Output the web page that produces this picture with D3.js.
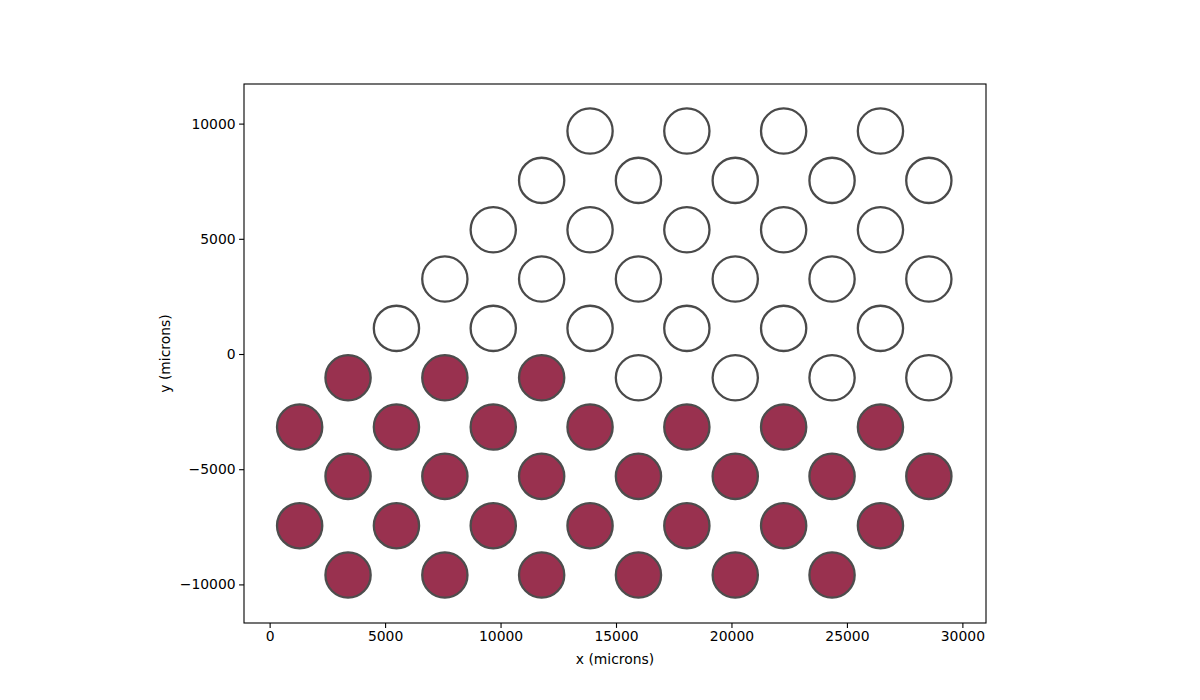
<!DOCTYPE html>
<html>
<head>
<meta charset="utf-8">
<script src="https://cdn.jsdelivr.net/npm/d3@7"></script>
<style>
    body { margin: 0; background: #fff; }
    #chart text { font-family: "DejaVu Sans", sans-serif; fill: #000; }
</style>
</head>
<body>
<div id="chart"></div>
<script>
const xTicks = [0, 5000, 10000, 15000, 20000, 25000, 30000];
const yTicks = [-10000, -5000, 0, 5000, 10000];

// filled holes (lower part)
const filledX = [
    3396, 7588, 11780,
    1300, 5492, 9684, 13876, 18068, 22260, 26452,
    3396, 7588, 11780, 15972, 20164, 24356, 28548,
    1300, 5492, 9684, 13876, 18068, 22260, 26452,
    3396, 7588, 11780, 15972, 20164, 24356
];
const filledY = [
    -1028, -1028, -1028,
    -3169, -3169, -3169, -3169, -3169, -3169, -3169,
    -5310, -5310, -5310, -5310, -5310, -5310, -5310,
    -7451, -7451, -7451, -7451, -7451, -7451, -7451,
    -9592, -9592, -9592, -9592, -9592, -9592
];

// empty holes (upper part)
const openX = [
    13876, 18068, 22260, 26452,
    11780, 15972, 20164, 24356, 28548,
    9684, 13876, 18068, 22260, 26452,
    7588, 11780, 15972, 20164, 24356, 28548,
    5492, 9684, 13876, 18068, 22260, 26452,
    15972, 20164, 24356, 28548
];
const openY = [
    9677, 9677, 9677, 9677,
    7536, 7536, 7536, 7536, 7536,
    5395, 5395, 5395, 5395, 5395,
    3254, 3254, 3254, 3254, 3254, 3254,
    1113, 1113, 1113, 1113, 1113, 1113,
    -1028, -1028, -1028, -1028
];

const holeRadius = 980;

const W = 1200, H = 700;
const margin = { top: 84, right: 214, bottom: 77, left: 244 };
const width = W - margin.left - margin.right;
const height = H - margin.top - margin.bottom;

const svg = d3.select("#chart")
    .append("svg")
    .attr("width", W)
    .attr("height", H)
    .append("g")
    .attr("transform", `translate(${margin.left},${margin.top})`);

const xScale = d3.scaleLinear()
    .domain([-1110, 31023])
    .range([0, width]);

const yScale = d3.scaleLinear()
    .domain([-11675, 11719])
    .range([height, 0]);

const rPx = xScale(holeRadius) - xScale(0);

const filled = filledX.map((x, i) => ({ x: x, y: filledY[i] }));
const open = openX.map((x, i) => ({ x: x, y: openY[i] }));

svg.selectAll(".hole.open")
    .data(open)
    .enter()
    .append("circle")
    .attr("class", "hole open")
    .attr("cx", d => xScale(d.x))
    .attr("cy", d => yScale(d.y))
    .attr("r", rPx)
    .attr("fill", "none")
    .attr("stroke", "#4a4a4a")
    .attr("stroke-width", 2.3);

svg.selectAll(".hole.filled")
    .data(filled)
    .enter()
    .append("circle")
    .attr("class", "hole filled")
    .attr("cx", d => xScale(d.x))
    .attr("cy", d => yScale(d.y))
    .attr("r", rPx)
    .attr("fill", "#99314f")
    .attr("stroke", "#4d4d4d")
    .attr("stroke-width", 2.3);

const xAxis = svg.append("g")
    .attr("transform", `translate(0,${height})`)
    .call(d3.axisBottom(xScale).tickValues(xTicks).tickFormat(d3.format("d")).tickSizeOuter(0).tickSize(4.9).tickPadding(3.5));

const yAxis = svg.append("g")
    .call(d3.axisLeft(yScale).tickValues(yTicks).tickFormat(d => d < 0 ? "\u2212" + Math.abs(d) : d).tickSizeOuter(0).tickSize(4.9).tickPadding(3.5));

[xAxis, yAxis].forEach(ax => {
    ax.select(".domain").remove();
    ax.selectAll("line").attr("stroke", "#000").attr("stroke-width", 1.1);
    ax.selectAll("text").style("font-size", "13.9px");
});

svg.append("rect")
    .attr("x", 0)
    .attr("y", 0)
    .attr("width", width)
    .attr("height", height)
    .attr("fill", "none")
    .attr("stroke", "#000")
    .attr("stroke-width", 1.1);

svg.append("text")
    .attr("x", width / 2)
    .attr("y", height + 41)
    .attr("text-anchor", "middle")
    .style("font-size", "13.9px")
    .text("x (microns)");

svg.append("text")
    .attr("transform", "rotate(-90)")
    .attr("x", -height / 2)
    .attr("y", -74)
    .attr("text-anchor", "middle")
    .style("font-size", "13.9px")
    .text("y (microns)");
</script>
</body>
</html>
